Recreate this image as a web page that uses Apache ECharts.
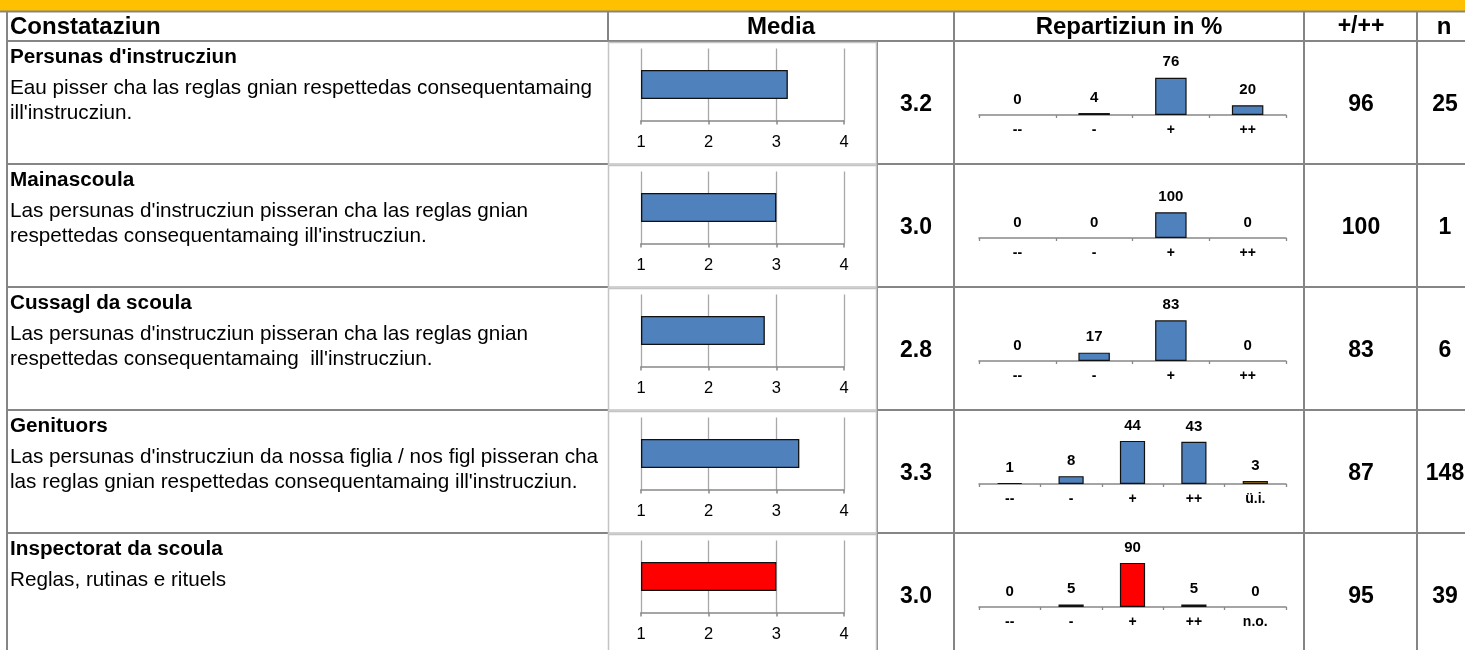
<!DOCTYPE html>
<html><head><meta charset="utf-8">
<script src="https://cdn.jsdelivr.net/npm/echarts@6/dist/echarts.min.js"></script>
<style>html,body{margin:0;padding:0;background:#fff;overflow:hidden}#c{width:1465px;height:650px}</style>
</head><body><div id="c"></div><script>
// ---- data ----
const headers = ["Constataziun", "Media", "Repartiziun in %", "+/++", "n"];
const titles = ["Persunas d'instrucziun", "Mainascoula", "Cussagl da scoula", "Genituors", "Inspectorat da scoula"];
const bodyLines = [
  ["Eau pisser cha las reglas gnian respettedas consequentamaing", "ill'instrucziun."],
  ["Las persunas d'instrucziun pisseran cha las reglas gnian", "respettedas consequentamaing ill'instrucziun."],
  ["Las persunas d'instrucziun pisseran cha las reglas gnian", "respettedas consequentamaing  ill'instrucziun."],
  ["Las persunas d'instrucziun da nossa figlia / nos figl pisseran cha", "las reglas gnian respettedas consequentamaing ill'instrucziun."],
  ["Reglas, rutinas e rituels"]
];
const means = [3.17, 3.0, 2.83, 3.34, 3.0];
const meanTicks = [1, 2, 3, 4];
const distCats = [
  ["--", "-", "+", "++"],
  ["--", "-", "+", "++"],
  ["--", "-", "+", "++"],
  ["--", "-", "+", "++", "ü.i."],
  ["--", "-", "+", "++", "n.o."]
];
const distVals = [
  [0, 4, 76, 20],
  [0, 0, 100, 0],
  [0, 17, 83, 0],
  [1, 8, 44, 43, 3],
  [0, 5, 90, 5, 0]
];
const posShare = [96, 100, 83, 87, 95];
const nVals = [25, 1, 6, 148, 39];

// ---- style / layout ----
const FONT = "'Liberation Sans', Arial, sans-serif";
const ROW0 = 41, ROWH = 123, W = 1465;
const rowColors = ["#4F81BD", "#4F81BD", "#4F81BD", "#4F81BD", "#FF0000"];
const extraColor = "#E8A317";
const distMax = [100, 190, 100, 50, 100];
const DARK = "#858585", LIGHT = "#c4c4c4";

const chart = echarts.init(document.getElementById('c'), null, {renderer: 'canvas'});
const grids = [], xAxes = [], yAxes = [], series = [], graphics = [];

function line(x1, y1, x2, y2, color, w) {
  graphics.push({type: 'line', silent: true, z: 1, shape: {x1, y1, x2, y2}, style: {stroke: color, lineWidth: w}});
}
function text(str, x, y, size, bold, align) {
  graphics.push({type: 'text', silent: true, z: 5, style: {text: str, x, y, fill: '#000', font: (bold ? 'bold ' : '') + size + 'px ' + FONT, textAlign: align || 'left', textVerticalAlign: 'middle'}});
}

// background bands and table lines
graphics.push({type: 'rect', silent: true, z: 0, shape: {x: 0, y: 0, width: W, height: 11}, style: {fill: '#FFC000'}});
line(0, 11.5, W, 11.5, DARK, 2);
line(7, 11, 7, 650, DARK, 2);
line(7, ROW0, W, ROW0, DARK, 2);
[608, 954, 1304, 1417].forEach(x => line(x, 11, x, ROW0, DARK, 2));
[877, 954, 1304, 1417].forEach(x => line(x, ROW0, x, 650, DARK, 2));

// headers
text(headers[0], 10, 27, 24, true, 'left');
text(headers[1], 781, 27, 24, true, 'center');
text(headers[2], 1129, 27, 24, true, 'center');
text(headers[3], 1361, 27, 23, true, 'center');
text(headers[4], 1444, 27, 24, true, 'center');

for (let k = 0; k < titles.length; k++) {
  const top = ROW0 + k * ROWH;
  const bottom = top + ROWH;
  // row separator lines
  if (k < titles.length - 1) {
    line(7, bottom, 608, bottom, DARK, 2);
    line(877, bottom, W, bottom, DARK, 2);
  }
  // media chart box
  graphics.push({type: 'rect', silent: true, z: 1, shape: {x: 608.5, y: top + 1.5, width: 268, height: ROWH - 1.5}, style: {fill: 'none', stroke: LIGHT, lineWidth: 1.5}});

  // left texts
  text(titles[k], 10, top + 16.5, 20.7, true, 'left');
  bodyLines[k].forEach((ln, i) => text(ln, 10, top + 47 + i * 25, 20.7, false, 'left'));

  // numbers
  text(means[k].toFixed(1), 916, top + 64, 23, true, 'center');
  text(String(posShare[k]), 1361, top + 64, 23, true, 'center');
  text(String(nVals[k]), 1445, top + 64, 23, true, 'center');

  // media chart
  const gi = grids.length;
  grids.push({left: 641, width: 203, top: top + 7.5, height: 72});
  xAxes.push({
    gridIndex: gi, type: 'value', min: meanTicks[0], max: meanTicks[meanTicks.length - 1], interval: 1, startValue: meanTicks[0],
    axisLine: {show: true, lineStyle: {color: '#888', width: 1.5}},
    axisTick: {show: true, length: 4, lineStyle: {color: '#888', width: 1.5}},
    splitLine: {show: true, lineStyle: {color: '#a8a8a8', width: 1.3}},
    axisLabel: {color: '#000', fontSize: 16.5, fontFamily: FONT, margin: 13}
  });
  yAxes.push({gridIndex: gi, type: 'category', data: [titles[k]], show: false});
  series.push({
    type: 'bar', xAxisIndex: gi, yAxisIndex: gi, data: [means[k]], barWidth: 29, clip: true,
    itemStyle: {color: rowColors[k], borderColor: '#111', borderWidth: 1.3}, silent: true
  });

  // distribution chart
  const gj = grids.length;
  grids.push({left: 979, width: 307, top: top + 25, height: 49});
  xAxes.push({
    gridIndex: gj, type: 'category', data: distCats[k],
    axisLine: {show: true, lineStyle: {color: '#888', width: 1.5}},
    axisTick: {show: true, length: 3, lineStyle: {color: '#888', width: 1.3}},
    axisLabel: {color: '#000', fontSize: 14, fontWeight: 'bold', fontFamily: FONT, margin: 8, interval: 0}
  });
  yAxes.push({gridIndex: gj, type: 'value', min: 0, max: distMax[k], show: false, splitLine: {show: false}});
  series.push({
    type: 'bar', xAxisIndex: gj, yAxisIndex: gj, barWidth: '41%', silent: true,
    data: distVals[k].map((v, i) => ({
      value: v,
      itemStyle: {
        color: /^[-+]+$/.test(distCats[k][i]) ? rowColors[k] : extraColor,
        borderColor: '#111', borderWidth: v > 0 ? 1.2 : 0
      }
    })),
    label: {show: true, position: 'top', distance: 8, color: '#000', fontSize: 15, fontWeight: 'bold', fontFamily: FONT}
  });
}

chart.setOption({
  animation: false,
  backgroundColor: '#fff',
  grid: grids, xAxis: xAxes, yAxis: yAxes, series: series,
  graphic: graphics
});
</script></body></html>
